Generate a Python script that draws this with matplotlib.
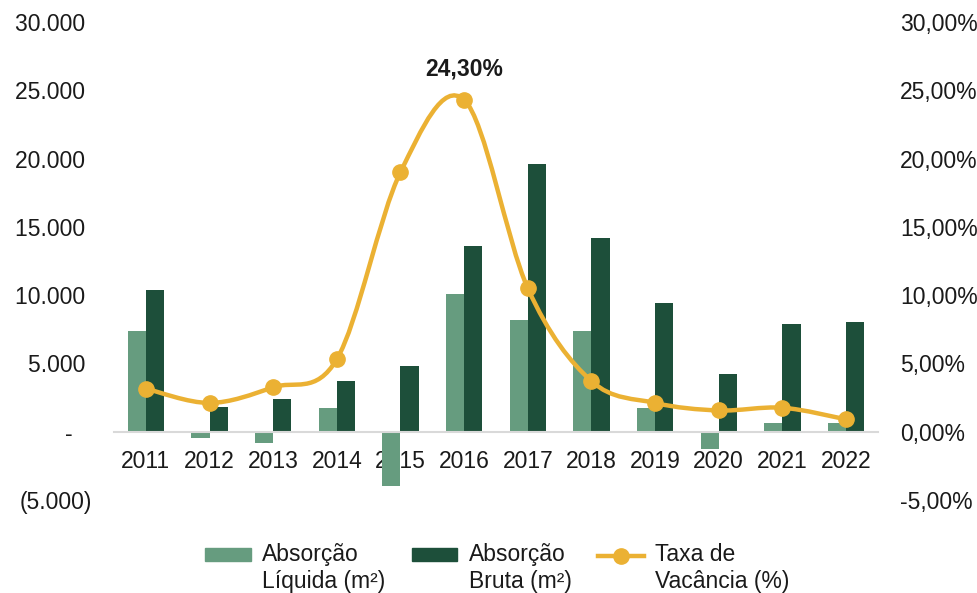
import matplotlib.pyplot as plt
import numpy as np
from matplotlib.path import Path
from matplotlib.patches import PathPatch, Patch, Rectangle
from matplotlib.lines import Line2D
from matplotlib.legend_handler import HandlerPatch, HandlerLine2D

# === ДАННЫЕ ===
anos = ['2011', '2012', '2013', '2014', '2015', '2016',
        '2017', '2018', '2019', '2020', '2021', '2022']
absorcao_liquida = [7400, -500, -800, 1700, -4000, 10100,
                    8200, 7400, 1750, -1300, 650, 650]
absorcao_bruta = [10400, 1800, 2400, 3700, 4800, 13600,
                  19600, 14200, 9400, 4200, 7900, 8000]
taxa_vacancia = [3.15, 2.1, 3.25, 5.3, 19.0, 24.3,
                 10.5, 3.7, 2.1, 1.55, 1.75, 0.9]

left_ticks = [-5000, 0, 5000, 10000, 15000, 20000, 25000, 30000]
left_labels = ['(5.000)', '-   ', '5.000 ', '10.000 ', '15.000 ', '20.000 ', '25.000 ', '30.000 ']
right_ticks = [-5, 0, 5, 10, 15, 20, 25, 30]
right_labels = ['-5,00%', '0,00%', '5,00%', '10,00%', '15,00%', '20,00%', '25,00%', '30,00%']

legend_labels = ['Absorção\nLíquida (m²)', 'Absorção\nBruta (m²)', 'Taxa de\nVacância (%)']

# цвета
C_LIQ = '#669c7f'
C_BRU = '#1d4f3a'
C_TAXA = '#ebb133'
C_TXT = '#1a1a1a'

plt.rcParams['font.family'] = ['Liberation Sans', 'DejaVu Sans']
FS = 16.5
SHIFT = 0.62  # сдвиг маркеров легенды к первой строке (в долях кегля)

fig = plt.figure(figsize=(9.78, 5.93), dpi=100)
ax = fig.add_axes([0.1166, 0.157, 0.781, 0.806])
ax2 = ax.twinx()

x = np.arange(len(anos))
w = 0.285
ax.bar(x - w / 2, absorcao_liquida, width=w, color=C_LIQ, zorder=2)
ax.bar(x + w / 2, absorcao_bruta, width=w, color=C_BRU, zorder=2)

ax.set_xlim(-0.5, len(anos) - 0.5)
ax.set_ylim(-5000, 30000)
ax2.set_ylim(-5, 30)

# оси
for a in (ax, ax2):
    for s in a.spines.values():
        s.set_visible(False)
ax.spines['bottom'].set_visible(True)
ax.spines['bottom'].set_position(('data', 0))
ax.spines['bottom'].set_color('#d9d9d9')
ax.spines['bottom'].set_linewidth(1.5)

ax.set_xticks(x)
ax.set_xticklabels(anos)
ax.tick_params(axis='x', length=0, pad=13, labelsize=FS, labelcolor=C_TXT)
ax.set_yticks(left_ticks)
ax.set_yticklabels(left_labels)
ax.tick_params(axis='y', length=0, pad=16, labelsize=FS, labelcolor=C_TXT)
ax2.set_yticks(right_ticks)
ax2.set_yticklabels(right_labels)
ax2.tick_params(axis='y', length=0, pad=16, labelsize=FS, labelcolor=C_TXT)

# сглаженная линия (кривые Безье в стиле Excel)
pts = np.column_stack([x, taxa_vacancia]).astype(float)
verts = [tuple(pts[0])]
codes = [Path.MOVETO]
n = len(pts)
for i in range(n - 1):
    p0 = pts[i - 1] if i > 0 else pts[i]
    p1 = pts[i]
    p2 = pts[i + 1]
    p3 = pts[i + 2] if i + 2 < n else pts[i + 1]
    c1 = p1 + (p2 - p0) / 6
    c2 = p2 - (p3 - p1) / 6
    verts += [tuple(c1), tuple(c2), tuple(p2)]
    codes += [Path.CURVE4] * 3
curve = PathPatch(Path(verts, codes), facecolor='none', edgecolor=C_TAXA,
                  lw=3.2, capstyle='round', zorder=3)
ax2.add_patch(curve)
ax2.plot(x, taxa_vacancia, 'o', color=C_TAXA, markersize=11, zorder=4)

imax = int(np.argmax(taxa_vacancia))
ax2.annotate(f'{taxa_vacancia[imax]:.2f}%'.replace('.', ','),
             (x[imax], taxa_vacancia[imax]), xytext=(0, 14), textcoords='offset points',
             ha='center', va='bottom', fontsize=FS, fontweight='bold', color=C_TXT)


# легенда: маркеры выровнены по первой строке подписи
def shifted_patch(legend, orig_handle, xdescent, ydescent, width, height, fontsize):
    return Rectangle((-xdescent, -ydescent + SHIFT * fontsize), width, height)


class ShiftedLine(HandlerLine2D):
    def create_artists(self, legend, orig_handle, xdescent, ydescent,
                       width, height, fontsize, trans):
        arts = super().create_artists(legend, orig_handle, xdescent, ydescent,
                                      width, height, fontsize, trans)
        for a in arts:
            a.set_ydata(np.asarray(a.get_ydata()) + SHIFT * fontsize)
        return arts


handles = [Patch(color=C_LIQ), Patch(color=C_BRU),
           Line2D([], [], color=C_TAXA, lw=3.2, marker='o', markersize=11)]
leg = fig.legend(handles, legend_labels, loc='lower left', bbox_to_anchor=(0.2, -0.016),
                 borderaxespad=0, ncol=3, frameon=False, fontsize=FS,
                 handlelength=2.0, handleheight=0.48, handletextpad=0.5,
                 columnspacing=1.15, labelcolor=C_TXT,
                 handler_map={Patch: HandlerPatch(patch_func=shifted_patch),
                              Line2D: ShiftedLine()})
for t in leg.get_texts():
    t.set_linespacing(1.25)

fig.savefig('out.png', dpi=100)
